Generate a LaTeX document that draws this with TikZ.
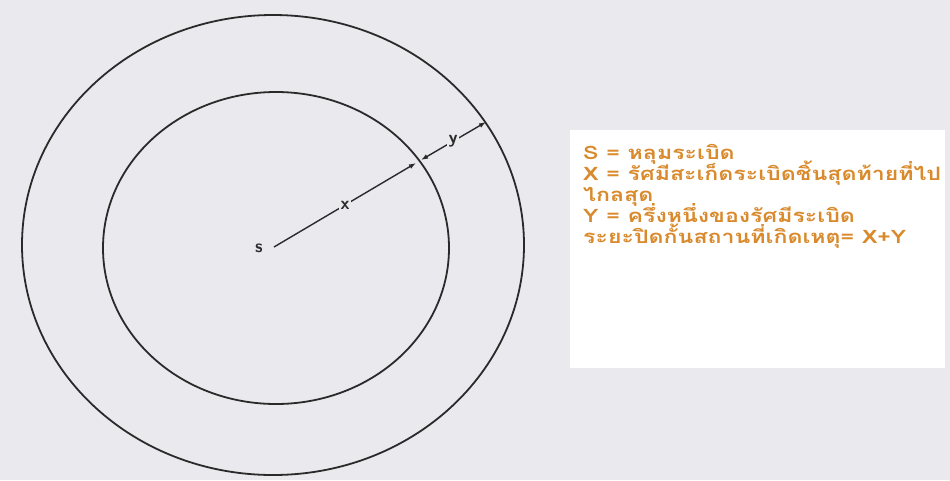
\documentclass[tikz,border=0pt]{standalone}
\usepackage{fontspec}
\newfontfamily\thaifont[Script=Thai,FakeStretch=1.25]{Loma}
\usetikzlibrary{arrows.meta}
\definecolor{bg}{HTML}{EAEAEE}
\definecolor{ink}{HTML}{2A2A2A}
\definecolor{legend}{HTML}{D98A2C}
\newcommand\legendfont{\thaifont\bfseries\fontsize{18.5}{21}\selectfont\lineskiplimit=-50pt\relax\lineskip=0pt\relax}
\tikzset{
  ring/.style={draw=ink, line width=1.8pt},
  dim/.style={draw=ink, line width=1.4pt, -{Latex[length=7pt,width=5pt]}},
  dimboth/.style={draw=ink, line width=1.4pt, {Latex[length=7pt,width=5pt]}-{Latex[length=7pt,width=5pt]}},
  lbl/.style={fill=bg, inner sep=1.5pt, text=ink, font=\sffamily\bfseries\fontsize{18}{18}\selectfont},
  legendtxt/.style={text=legend, font=\legendfont, align=left, anchor=base west, inner sep=0pt}
}
\begin{document}
\begin{tikzpicture}[x=1pt,y=-1pt]
\useasboundingbox (0,0) rectangle (950,480);
\fill[bg] (0,0) rectangle (950,480);
% rings
\draw[ring] (273,245) ellipse [x radius=251, y radius=230];
\draw[ring] (276,248) ellipse [x radius=173, y radius=156];
% points
\coordinate (S) at (274,247);
\coordinate (P) at (416,163);
\coordinate (P2) at (421,160);
\coordinate (Q) at (486,122);
\node[lbl, inner sep=0pt] (s) at (259,248) {s};
\draw[dim] (S) -- (P);
\node[lbl] (x) at (345,205) {x};
\draw[dimboth] (P2) -- (Q);
\node[lbl] (y) at (453,141) {y};
% legend
\fill[white] (570,130) rectangle (945,368);
\node[legendtxt] (leg) at (583,243) {S = หลุมระเบิด\\
X = รัศมีสะเก็ดระเบิดชิ้นสุดท้ายที่ไป\\
ไกลสุด\\
Y = ครึ่งหนึ่งของรัศมีระเบิด\\
ระยะปิดกั้นสถานที่เกิดเหตุ= X+Y};
\end{tikzpicture}
\end{document}
